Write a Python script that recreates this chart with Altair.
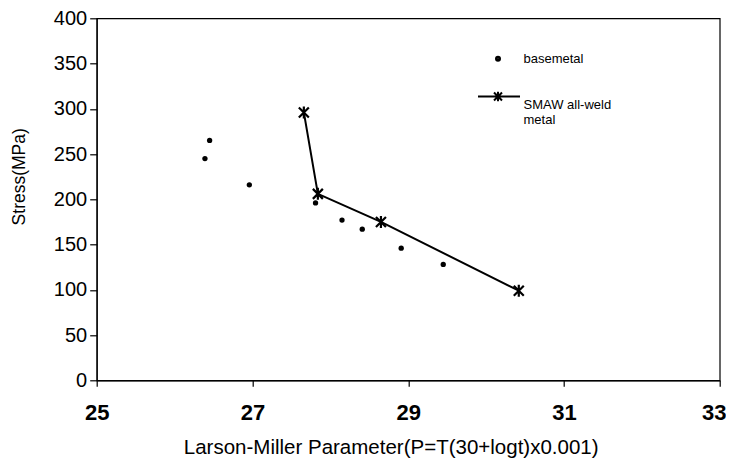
import altair as alt
import pandas as pd

# Base metal (dots)
base_x = [26.39, 26.45, 26.96, 27.81, 28.15, 28.41, 28.91, 29.45]
base_y = [245, 265, 216, 196, 177, 167, 146, 128]
# SMAW all-weld metal (stars joined by line)
smaw_x = [27.66, 27.84, 28.65, 30.42]
smaw_y = [296, 206, 175, 99]

series_names = ["basemetal", "SMAW all-weld metal"]
x_ticks = [25, 27, 29, 31, 33]
y_ticks = [0, 50, 100, 150, 200, 250, 300, 350, 400]

df = pd.DataFrame(
    {
        "P": base_x + smaw_x,
        "Stress": base_y + smaw_y,
        "series": [series_names[0]] * len(base_x) + [series_names[1]] * len(smaw_x),
        "order": list(range(len(base_x))) + list(range(len(smaw_x))),
    }
)

STAR = "M-1,-1L1,1M-1,1L1,-1M0,-1.2L0,1.2"
LEG_DOT = ("M-0.4,0A0.4,0.4 0 1,0 0.4,0A0.4,0.4 0 1,0 -0.4,0Z"
           "M-0.15,0A0.15,0.15 0 1,0 0.15,0A0.15,0.15 0 1,0 -0.15,0Z")
LEG_SMAW = "M-4,-1.66L4.4,-1.66M-0.8,-2.46L0.8,-0.86M-0.8,-0.86L0.8,-2.46M0,-2.6L0,-0.72"

x_enc = alt.X(
    "P:Q",
    scale=alt.Scale(domain=[25, 33], nice=False),
    axis=alt.Axis(
        values=x_ticks,
        title="Larson-Miller Parameter(P=T(30+logt)x0.001)",
        titleFontSize=20.5,
        titleFontWeight="normal",
        titleX=86.6,
        titleY=73,
        titleAlign="left",
        titleBaseline="alphabetic",
        labelFontSize=22,
        labelFontWeight="bold",
        labelPadding=16,
        labelOffset={"condition": {"test": "datum.value == 33", "value": -6}, "value": 0},
        tickSize=6,
        grid=False,
        labelFlush=False,
    ),
)
y_enc = alt.Y(
    "Stress:Q",
    scale=alt.Scale(domain=[0, 400], nice=False),
    axis=alt.Axis(
        values=y_ticks,
        title="Stress(MPa)",
        titleFontSize=17.5,
        titleFontWeight="normal",
        titleX=-77.7,
        titleY=158,
        titleAngle=-90,
        titleAlign="center",
        titleBaseline="middle",
        labelFontSize=20,
        labelPadding=3,
        tickSize=7,
        grid=False,
        labelFlush=False,
    ),
)

base = alt.Chart(df)

line = base.transform_filter(alt.datum.series == series_names[1]).mark_line(
    color="black", strokeWidth=2
).encode(x=x_enc, y=y_enc, order="order:Q")

dots = base.transform_filter(alt.datum.series == series_names[0]).mark_point(
    shape="circle", filled=True, color="black", size=28, opacity=1
).encode(x=x_enc, y=y_enc)

stars = base.transform_filter(alt.datum.series == series_names[1]).mark_point(
    shape=STAR, filled=False, color="black", strokeWidth=2.2, size=100, opacity=1
).encode(x=x_enc, y=y_enc)

legend_layer = base.transform_filter("false").mark_point(
    filled=False, color="black", strokeWidth=2, opacity=1
).encode(
    shape=alt.Shape(
        "series:N",
        scale=alt.Scale(domain=series_names, range=[LEG_DOT, LEG_SMAW]),
        legend=alt.Legend(
            title=None,
            orient="none",
            legendX=394.8,
            legendY=34,
            padding=0,
            symbolSize=100,
            symbolStrokeColor="black",
            symbolStrokeWidth=2,
            labelFontSize=13,
            labelOffset=19,
            rowPadding=21,
            labelLimit=300,
            labelExpr="datum.label == 'SMAW all-weld metal' ? ['SMAW all-weld', 'metal'] : datum.label",
        ),
    )
)

chart = (
    alt.layer(line, dots, stars, legend_layer)
    .properties(
        width=623,
        height=362,
        autosize=alt.AutoSizeParams(type="none"),
        padding={"left": 88.7, "top": 10.3, "right": 6.3, "bottom": 77.7},
        background="white",
    )
    .configure(font="Liberation Sans")
    .configure_view(stroke="black", strokeWidth=1.2)
    .configure_axis(
        domainColor="black",
        tickColor="black",
        labelColor="black",
        titleColor="black",
        domainWidth=1.2,
        tickWidth=1.2,
    )
    .configure_legend(labelColor="black")
)

chart.save("out.html", embed_options={"renderer": "svg", "actions": False})
